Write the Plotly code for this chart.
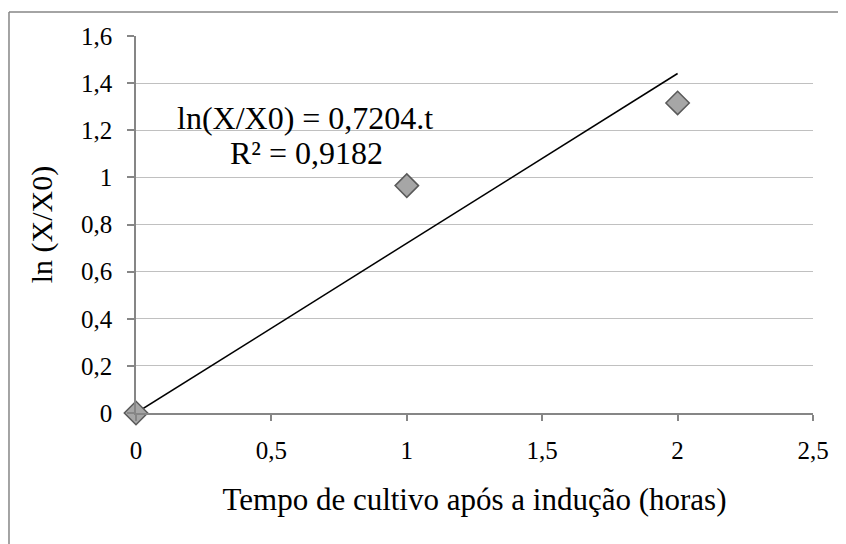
import plotly.graph_objects as go

# Data
tempo = [0, 1, 2]
ln_ratio = [0.0, 0.965, 1.316]
slope = 0.7204
trend_x = [0, 2]
trend_y = [slope * t for t in trend_x]
x_ticks = [0, 0.5, 1, 1.5, 2, 2.5]
x_tick_labels = ["0", "0,5", "1", "1,5", "2", "2,5"]
y_ticks = [0, 0.2, 0.4, 0.6, 0.8, 1.0, 1.2, 1.4, 1.6]
y_tick_labels = ["0", "0,2", "0,4", "0,6", "0,8", "1", "1,2", "1,4", "1,6"]
eq_text = "ln(X/X0) = 0,7204.t"
r2_text = "R² = 0,9182"

FONT = "Liberation Serif, Times New Roman, serif"

fig = go.Figure()
fig.add_trace(go.Scatter(
    x=trend_x, y=trend_y, mode="lines",
    line=dict(color="black", width=1.5), showlegend=False, hoverinfo="skip",
))
fig.add_trace(go.Scatter(
    x=tempo, y=ln_ratio, mode="markers",
    marker=dict(symbol="diamond", size=18, color="#A6A6A6",
                line=dict(color="#595959", width=1.5)),
    showlegend=False, cliponaxis=False,
))

fig.add_annotation(x=0.624, y=1.252, xref="x", yref="y", text=eq_text,
                   showarrow=False, font=dict(family=FONT, size=32, color="black"))
fig.add_annotation(x=0.628, y=1.104, xref="x", yref="y", text=r2_text,
                   showarrow=False, font=dict(family=FONT, size=32, color="black"))

# chart border (top and left edges; right/bottom lie outside the picture)
fig.add_shape(type="line", xref="paper", yref="paper",
              x0=-0.1876, x1=1.1, y0=1.0636, y1=1.0636,
              line=dict(color="#868686", width=1.5), layer="below")
fig.add_shape(type="line", xref="paper", yref="paper",
              x0=-0.1876, x1=-0.1876, y0=-0.4, y1=1.0636,
              line=dict(color="#868686", width=1.5), layer="below")

fig.update_layout(
    width=838, height=536,
    margin=dict(l=128, r=33, t=28, b=131, autoexpand=False),
    paper_bgcolor="white", plot_bgcolor="white",
    font=dict(family=FONT, size=25, color="black"),
)
fig.update_xaxes(
    range=[0, 2.5], tickvals=x_ticks, ticktext=x_tick_labels,
    showgrid=False, zeroline=False, showline=True, linecolor="#868686", linewidth=1.5,
    ticks="outside", ticklen=6, tickcolor="#868686", tickwidth=1.5,
    tickfont=dict(family=FONT, size=25), ticklabelstandoff=8, automargin=False,
    title=dict(text="Tempo de cultivo após a indução (horas)",
               font=dict(family=FONT, size=31), standoff=26),
)
fig.update_yaxes(
    range=[0, 1.6], tickvals=y_ticks, ticktext=y_tick_labels,
    showgrid=True, gridcolor="#C0C0C0", gridwidth=1.2,
    zeroline=False, showline=True, linecolor="#868686", linewidth=1.5,
    ticks="outside", ticklen=7, tickcolor="#868686", tickwidth=1.5,
    tickfont=dict(family=FONT, size=25), ticklabelstandoff=10, automargin=False,
    title=dict(text="ln (X/X0)", font=dict(family=FONT, size=30), standoff=20),
)

fig.write_html("out.html")
